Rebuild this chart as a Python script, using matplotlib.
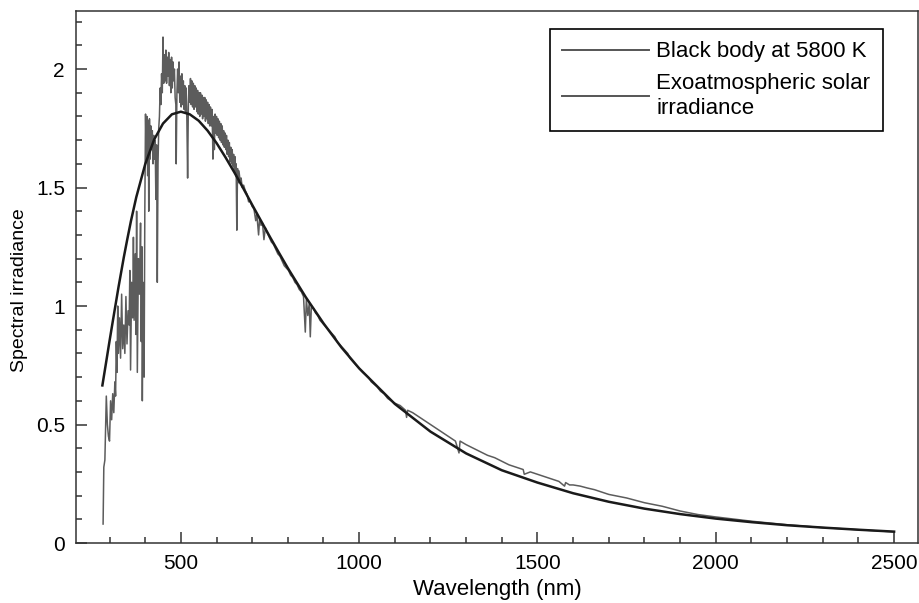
import numpy as np
import matplotlib
matplotlib.use('Agg')
import matplotlib.pyplot as plt
from matplotlib.ticker import MultipleLocator, FormatStrFormatter

plt.rcParams['font.family'] = ['Liberation Sans', 'DejaVu Sans']

# black body curve (nm, irradiance)
bb_wl = [280, 290, 300, 310, 320, 325, 340, 350, 360, 375, 400, 425, 450, 475,
         500, 525, 550, 575, 600, 625, 650, 675, 700, 725, 750, 775, 800, 850,
         900, 950, 1000, 1100, 1200, 1300, 1400, 1500, 1600, 1700, 1800, 1900,
         2000, 2100, 2200, 2300, 2400, 2500]
bb_val = [0.665, 0.758, 0.852, 0.943, 1.033, 1.078, 1.205, 1.283, 1.358, 1.459,
          1.598, 1.702, 1.770, 1.809, 1.820, 1.809, 1.782, 1.740, 1.688, 1.628,
          1.564, 1.497, 1.427, 1.359, 1.291, 1.225, 1.160, 1.038, 0.927, 0.826,
          0.737, 0.587, 0.470, 0.378, 0.307, 0.255, 0.210, 0.174, 0.145, 0.122,
          0.103, 0.088, 0.075, 0.065, 0.056, 0.048]

# exoatmospheric solar spectrum, ultraviolet part
uv_wl = [282, 284, 287, 291, 294, 297, 300, 303, 306, 309, 312, 315, 317, 319,
         321, 323, 325, 328, 331, 334, 337, 340, 343, 346, 349, 352, 355, 357,
         359, 362, 365, 367, 369, 372, 374, 376, 378, 381, 384, 387, 389, 391,
         392, 394, 396, 397, 399, 401, 403, 405, 407, 409, 410, 412, 414, 416,
         418, 420, 422, 424, 426, 428, 430, 432, 434, 436, 438]
uv_val = [0.08, 0.32, 0.35, 0.62, 0.50, 0.45, 0.43, 0.60, 0.52, 0.63, 0.55, 0.68,
          0.62, 0.85, 0.72, 1.00, 0.80, 0.95, 0.78, 1.05, 0.82, 0.92, 0.80, 1.04,
          0.84, 0.98, 0.92, 1.15, 0.73, 1.10, 0.95, 1.29, 0.94, 1.22, 0.88, 1.40,
          0.72, 1.20, 1.05, 1.35, 0.85, 1.25, 0.60, 1.10, 1.00, 0.70, 1.40, 1.81,
          1.62, 1.80, 1.55, 1.78, 1.40, 1.79, 1.62, 1.76, 1.66, 1.74, 1.60, 1.72,
          1.62, 1.70, 1.45, 1.68, 1.10, 1.60, 1.75]

# visible part
vis_wl = [440, 442, 444, 446, 448, 450, 452, 454, 456, 458, 460, 462, 464, 466,
          468, 470, 472, 474, 476, 478, 480, 482, 484, 486, 487, 489, 491, 493,
          495, 497, 499, 501, 503, 505, 507, 509, 511, 513, 515, 517, 519, 521,
          523, 525, 527, 529, 531, 533, 535, 537, 539, 541, 543, 545, 547, 549,
          551, 553, 555, 557, 559, 561, 563, 565, 567, 569, 571, 573, 575, 577,
          579, 581, 583, 585, 587, 589, 590, 592, 594, 596, 598, 600, 602, 604,
          606, 608, 610, 612, 614, 616, 618, 620, 622, 624, 626, 628, 630, 632,
          634, 636, 638, 640, 642, 644, 646, 648, 650, 652, 654, 655, 657, 659,
          661, 663, 666, 669, 672]
vis_val = [1.80, 1.92, 1.85, 1.98, 1.90, 2.135, 1.94, 2.06, 1.95, 2.08, 1.94, 2.05,
           1.97, 2.07, 1.93, 2.04, 1.90, 2.05, 1.92, 2.03, 1.95, 2.00, 1.88, 1.85,
           1.60, 1.90, 2.00, 1.90, 2.03, 1.86, 1.97, 1.84, 1.98, 1.85, 1.95, 1.83,
           1.93, 1.82, 1.92, 1.78, 1.54, 1.84, 1.93, 1.86, 1.96, 1.85, 1.95, 1.84,
           1.94, 1.83, 1.93, 1.84, 1.92, 1.82, 1.91, 1.81, 1.90, 1.80, 1.90, 1.81,
           1.89, 1.79, 1.88, 1.80, 1.88, 1.78, 1.87, 1.79, 1.86, 1.77, 1.85, 1.76,
           1.84, 1.76, 1.83, 1.72, 1.62, 1.80, 1.66, 1.81, 1.73, 1.80, 1.72, 1.79,
           1.71, 1.78, 1.70, 1.77, 1.69, 1.76, 1.68, 1.74, 1.67, 1.73, 1.66, 1.72,
           1.64, 1.70, 1.63, 1.69, 1.61, 1.67, 1.60, 1.66, 1.59, 1.64, 1.57, 1.63,
           1.55, 1.60, 1.32, 1.58, 1.52, 1.57, 1.53, 1.54, 1.50]

# infrared part
ir_wl = [676, 680, 686, 690, 695, 700, 705, 710, 713, 718, 721, 725, 729, 733,
         737, 742, 748, 754, 760, 766, 772, 778, 784, 790, 796, 802, 808, 814,
         820, 826, 832, 838, 844, 849, 852, 856, 860, 863, 866, 872, 878, 884,
         890, 896, 902, 908, 914, 920, 926, 932, 938, 944, 950, 956, 962, 968,
         974, 980, 986, 992, 998, 1004, 1010, 1018, 1026, 1034, 1042, 1050, 1060,
         1070, 1080, 1090, 1100, 1115, 1130, 1133, 1136, 1150, 1170, 1190, 1210,
         1230, 1250, 1270, 1280, 1283, 1300, 1320, 1340, 1360, 1380, 1400, 1420,
         1440, 1460, 1463, 1480, 1500, 1520, 1540, 1560, 1576, 1579, 1590, 1600,
         1620, 1640, 1660, 1680, 1700, 1750, 1800, 1850, 1900, 1950, 2000, 2100,
         2200, 2300, 2400, 2500, 2500]
ir_val = [1.51, 1.49, 1.47, 1.44, 1.44, 1.42, 1.41, 1.36, 1.39, 1.30, 1.37, 1.34,
          1.35, 1.28, 1.33, 1.31, 1.29, 1.27, 1.26, 1.24, 1.22, 1.21, 1.19, 1.17,
          1.16, 1.15, 1.13, 1.12, 1.10, 1.09, 1.07, 1.06, 1.04, 0.89, 1.03, 0.96,
          1.01, 0.87, 1.00, 0.99, 0.97, 0.96, 0.94, 0.93, 0.92, 0.91, 0.90, 0.89,
          0.88, 0.87, 0.85, 0.84, 0.83, 0.82, 0.81, 0.80, 0.78, 0.77, 0.76, 0.75,
          0.74, 0.73, 0.72, 0.71, 0.70, 0.68, 0.67, 0.66, 0.64, 0.63, 0.61, 0.60,
          0.59, 0.58, 0.56, 0.53, 0.56, 0.55, 0.53, 0.51, 0.49, 0.47, 0.45, 0.43,
          0.38, 0.43, 0.415, 0.40, 0.385, 0.37, 0.36, 0.345, 0.33, 0.32, 0.31,
          0.29, 0.30, 0.29, 0.28, 0.27, 0.26, 0.24, 0.255, 0.245, 0.245, 0.24,
          0.232, 0.225, 0.215, 0.205, 0.19, 0.17, 0.155, 0.135, 0.12, 0.11, 0.092,
          0.077, 0.065, 0.056, 0.047, 0.0]

sol_wl = uv_wl + vis_wl + ir_wl
sol_val = uv_val + vis_val + ir_val

fig = plt.figure(figsize=(9.2, 6.03), dpi=100)
ax = fig.add_axes([0.0826, 0.0995, 0.9152, 0.8823])

ax.plot(bb_wl, bb_val, color='#1a1a1a', lw=1.8, label='Black body at 5800 K', zorder=3)
ax.plot(sol_wl, sol_val, color='#5c5c5c', lw=1.1,
        label='Exoatmospheric solar\nirradiance', zorder=2)

ax.set_xlim(206, 2567)
ax.set_ylim(0, 2.245)

ax.xaxis.set_major_locator(MultipleLocator(500))
ax.xaxis.set_minor_locator(MultipleLocator(100))
ax.yaxis.set_major_locator(MultipleLocator(0.5))
ax.yaxis.set_minor_locator(MultipleLocator(0.1))
ax.yaxis.set_major_formatter(FormatStrFormatter('%g'))

ax.tick_params(which='both', direction='in', top=False, right=False,
               color='#333333', labelsize=15, width=1.1)
ax.tick_params(which='major', length=8, pad=8)
ax.tick_params(which='minor', length=4)

for sp in ax.spines.values():
    sp.set_color('#333333')
    sp.set_linewidth(1.1)

ax.set_xlabel('Wavelength (nm)', fontsize=16, labelpad=4)
ax.set_ylabel('Spectral irradiance', fontsize=14)
ax.yaxis.set_label_coords(-0.057, 0.475)

leg = ax.legend(loc='upper right', bbox_to_anchor=(0.958, 0.966), borderaxespad=0,
                fontsize=16, handlelength=3.9, handletextpad=0.35, fancybox=False,
                framealpha=1, edgecolor='black', borderpad=0.55, labelspacing=0.5)
leg.get_frame().set_linewidth(1.2)
for ln in leg.get_lines():
    ln.set_color('#555555')
    ln.set_linewidth(1.4)

fig.savefig('out.png', dpi=100)
